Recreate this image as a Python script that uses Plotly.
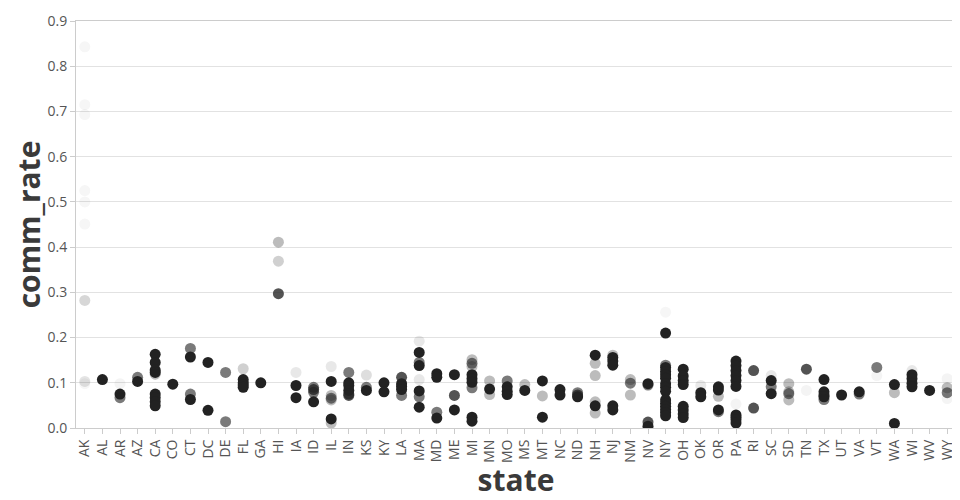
import plotly.graph_objects as go

states = ["AK","AL","AR","AZ","CA","CO","CT","DC","DE","FL","GA","HI","IA","ID","IL","IN","KS","KY","LA","MA",
          "MD","ME","MI","MN","MO","MS","MT","NC","ND","NH","NJ","NM","NV","NY","OH","OK","OR","PA","RI","SC",
          "SD","TN","TX","UT","VA","VT","WA","WI","WV","WY"]

# opacity levels: D dark, M mid-dark, G gray, L light, V very light, F faint
D, M, G, L, V, F = 1.0, 0.78, 0.6, 0.3, 0.1, 0.04

point_state = (
    ["AK"] * 9 + ["AL"] + ["AR"] * 3 + ["AZ"] * 2 + ["CA"] * 9 + ["CO"] + ["CT"] * 4 + ["DC"] * 2 + ["DE"] * 2
    + ["FL"] * 5 + ["GA"] + ["HI"] * 3 + ["IA"] * 3 + ["ID"] * 4 + ["IL"] * 7 + ["IN"] * 6 + ["KS"] * 3
    + ["KY"] * 2 + ["LA"] * 5 + ["MA"] * 8 + ["MD"] * 4 + ["ME"] * 3 + ["MI"] * 9 + ["MN"] * 3 + ["MO"] * 4
    + ["MS"] * 2 + ["MT"] * 3 + ["NC"] * 2 + ["ND"] * 3 + ["NH"] * 6 + ["NJ"] * 6 + ["NM"] * 3 + ["NV"] * 4
    + ["NY"] * 16 + ["OH"] * 8 + ["OK"] * 3 + ["OR"] * 5 + ["PA"] * 11 + ["RI"] * 2 + ["SC"] * 4 + ["SD"] * 4
    + ["TN"] * 2 + ["TX"] * 5 + ["UT"] + ["VA"] * 2 + ["VT"] * 2 + ["WA"] * 3 + ["WI"] * 5 + ["WV"] + ["WY"] * 4
)

comm_rate = [
    0.843, 0.715, 0.693, 0.525, 0.50, 0.451, 0.282, 0.103, 0.098,            # AK
    0.107,                                                                    # AL
    0.098, 0.075, 0.067,                                                      # AR
    0.112, 0.103,                                                             # AZ
    0.163, 0.145, 0.128, 0.123, 0.119, 0.075, 0.067, 0.058, 0.049,            # CA
    0.097,                                                                    # CO
    0.176, 0.157, 0.075, 0.063,                                               # CT
    0.145, 0.039,                                                             # DC
    0.123, 0.014,                                                             # DE
    0.131, 0.107, 0.100, 0.095, 0.090,                                        # FL
    0.100,                                                                    # GA
    0.411, 0.369, 0.297,                                                      # HI
    0.123, 0.094, 0.067,                                                      # IA
    0.090, 0.085, 0.079, 0.058,                                               # ID
    0.136, 0.103, 0.072, 0.066, 0.062, 0.020, 0.011,                          # IL
    0.123, 0.100, 0.094, 0.083, 0.075, 0.072,                                 # IN
    0.117, 0.090, 0.083,                                                      # KS
    0.100, 0.080,                                                             # KY
    0.112, 0.098, 0.092, 0.085, 0.072,                                        # LA
    0.192, 0.167, 0.145, 0.138, 0.107, 0.082, 0.069, 0.046,                   # MA
    0.120, 0.112, 0.035, 0.022,                                               # MD
    0.118, 0.072, 0.040,                                                      # ME
    0.151, 0.143, 0.136, 0.118, 0.109, 0.101, 0.089, 0.024, 0.015,            # MI
    0.104, 0.086, 0.074,                                                      # MN
    0.104, 0.091, 0.081, 0.074,                                               # MO
    0.096, 0.083,                                                             # MS
    0.104, 0.071, 0.024,                                                      # MT
    0.085, 0.073,                                                             # NC
    0.078, 0.073, 0.069,                                                      # ND
    0.161, 0.143, 0.116, 0.058, 0.049, 0.033,                                 # NH
    0.161, 0.156, 0.148, 0.139, 0.049, 0.040,                                 # NJ
    0.107, 0.099, 0.073,                                                      # NM
    0.098, 0.095, 0.013, 0.004,                                               # NV
    0.256, 0.210, 0.139, 0.134, 0.125, 0.118, 0.110, 0.098, 0.090, 0.081,
    0.062, 0.055, 0.048, 0.041, 0.034, 0.027,                                 # NY
    0.130, 0.115, 0.105, 0.096, 0.048, 0.040, 0.031, 0.023,                   # OH
    0.094, 0.078, 0.069,                                                      # OK
    0.091, 0.084, 0.070, 0.040, 0.036,                                        # OR
    0.148, 0.138, 0.127, 0.116, 0.105, 0.092, 0.053, 0.029, 0.024, 0.018, 0.011,  # PA
    0.127, 0.044,                                                             # RI
    0.116, 0.105, 0.091, 0.076,                                               # SC
    0.098, 0.080, 0.076, 0.062,                                               # SD
    0.130, 0.083,                                                             # TN
    0.107, 0.080, 0.073, 0.069, 0.063,                                        # TX
    0.073,                                                                    # UT
    0.080, 0.075,                                                             # VA
    0.134, 0.116,                                                             # VT
    0.096, 0.078, 0.010,                                                      # WA
    0.127, 0.118, 0.109, 0.099, 0.091,                                        # WI
    0.083,                                                                    # WV
    0.109, 0.089, 0.078, 0.065,                                               # WY
]

opacity_value = [
    F, F, F, F, F, F, L * 0.6, V * 1.2, F,        # AK
    D,                                            # AL
    V * 0.5, D, G,                                # AR
    G, D,                                         # AZ
    D, D, D, D, L, D, D, D, D,                    # CA
    D,                                            # CO
    G, D, G, D,                                   # CT
    D, D,                                         # DC
    G, G,                                         # DE
    L * 0.7, D, D, D, D,                          # FL
    D,                                            # GA
    L, L * 0.7, M,                                # HI
    V, D, D,                                      # IA
    G, M, G, D,                                   # ID
    V, D, L, G, L, D, L,                          # IL
    G, D, D, D, M, M,                             # IN
    V * 1.5, G, D,                                # KS
    D, D,                                         # KY
    M, D, D, D, G,                                # LA
    V, D, G, D, V, D, G, D,                       # MA
    D, D, G, D,                                   # MD
    D, M, D,                                      # ME
    L, G, L, D, D, D, G, D, D,                    # MI
    L, D, L,                                      # MN
    G, D, D, D,                                   # MO
    L, D,                                         # MS
    D, L, D,                                      # MT
    D, D,                                         # NC
    G, M, D,                                      # ND
    D, L, L, L, D, L,                             # NH
    L, D, D, D, D, D,                             # NJ
    L, G, L,                                      # NM
    D, G, M, D,                                   # NV
    F, D, G, D, D, D, D, D, D, D,
    D, D, D, D, D, D,                             # NY
    D, D, D, D, D, D, D, D,                       # OH
    V, D, D,                                      # OK
    D, D, L, D, G,                                # OR
    D, D, D, D, D, D, V * 0.5, D, D, D, D,        # PA
    M, M,                                         # RI
    V, D, G, D,                                   # SC
    L, L, G, L,                                   # SD
    M, V * 0.5,                                   # TN
    D, D, D, D, G,                                # TX
    D,                                            # UT
    D, G,                                         # VA
    G, V * 0.5,                                   # VT
    D, L, D,                                      # WA
    V, D, D, D, D,                                # WI
    D,                                            # WV
    V * 0.5, L, G, V * 0.5,                       # WY
]

y_ticks = [0.0, 0.1, 0.2, 0.3, 0.4, 0.5, 0.6, 0.7, 0.8, 0.9]

fig = go.Figure()
fig.add_trace(go.Scatter(
    x=point_state, y=comm_rate, mode="markers",
    marker=dict(size=11, color="#222222", opacity=opacity_value, line=dict(width=0)),
    showlegend=False, hoverinfo="x+y",
))

fig.update_layout(
    width=952, height=492,
    margin=dict(l=68, r=3, t=5, b=72),
    paper_bgcolor="white", plot_bgcolor="white",
    font=dict(family="Open Sans", color="#444"),
    xaxis=dict(
        type="category", categoryorder="array", categoryarray=states,
        range=[-0.5, len(states) - 0.5],
        tickangle=-90, tickfont=dict(size=14, color="#555"),
        ticks="outside", ticklen=5, tickcolor="#ccc",
        showgrid=False, showline=True, linecolor="#ccc", mirror=True,
        title=dict(text="<b>state</b>", font=dict(size=30, color="#3a3a3a"), standoff=2),
        zeroline=False,
    ),
    yaxis=dict(
        range=[0, 0.9], tickvals=y_ticks, tickformat=".1f",
        tickfont=dict(size=14, color="#555"), ticklabeloverflow="allow",
        ticks="outside", ticklen=5, tickcolor="#ccc",
        showgrid=True, gridcolor="#e2e2e2", showline=True, linecolor="#ccc", mirror=True,
        zeroline=False,
        title=dict(text="<b>comm_rate</b>", font=dict(size=30, color="#3a3a3a"), standoff=6),
    ),
)

fig.write_html("out.html")
